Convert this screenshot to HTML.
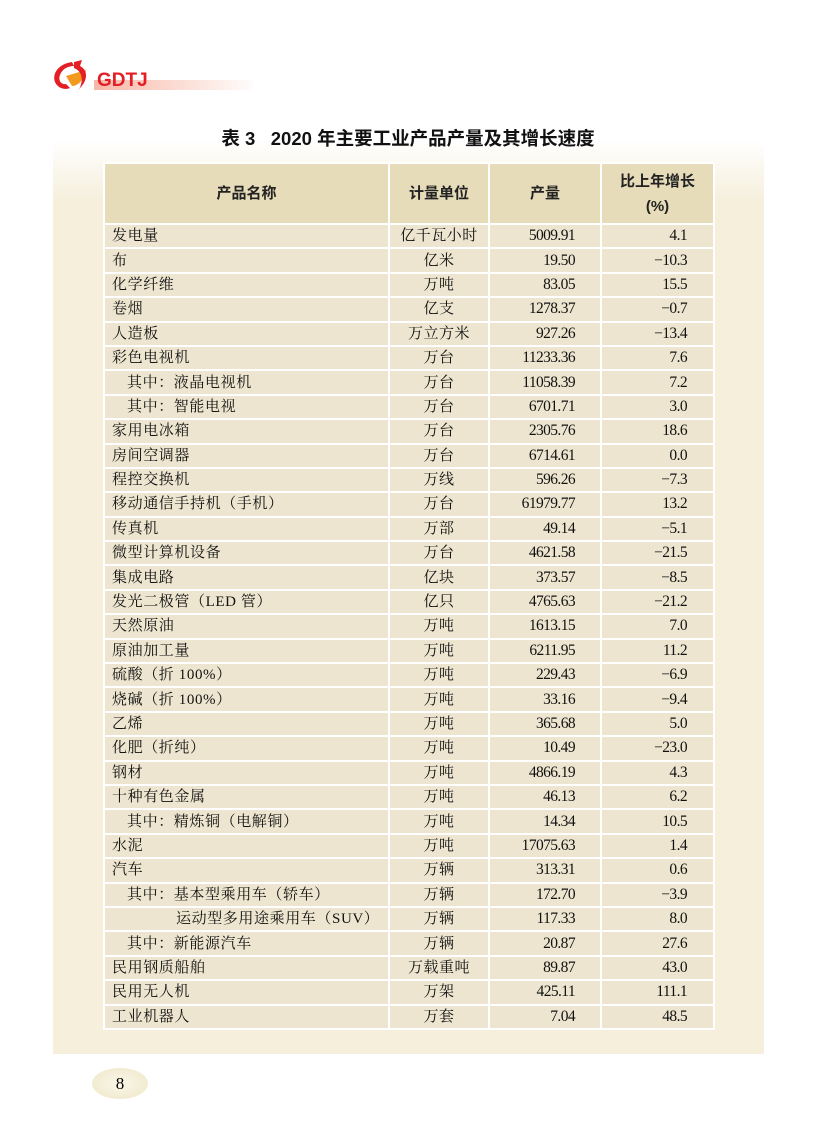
<!DOCTYPE html>
<html><head><meta charset="utf-8">
<style>
html,body{margin:0;padding:0;background:#fff;}
body{width:816px;height:1145px;position:relative;overflow:hidden;font-family:"Liberation Serif","Noto Serif CJK SC",serif;}
.panel{position:absolute;left:53px;top:140px;width:711px;height:914px;background:linear-gradient(#fff 0px,#f5efdc 60px,#f5efdc 100%);}
.title{position:absolute;left:0;width:816px;top:125px;text-align:center;font-family:"Liberation Sans","Noto Sans CJK SC",sans-serif;font-weight:bold;font-size:18.5px;color:#111;}
table{position:absolute;left:103px;top:162px;border-collapse:collapse;background:#fff;}
td{border:2px solid #fff;padding:0;height:22.4px;font-size:15px;color:#111;background:#ede5cf;line-height:20px;}
th{border:2px solid #fff;background:#e6dcba;height:57px;font-family:"Liberation Sans","Noto Sans CJK SC",sans-serif;font-size:15px;font-weight:bold;color:#222;line-height:25px;}
td.n{padding-left:7px;letter-spacing:0.6px;}
td.u{text-align:center;letter-spacing:0.5px;}
td.p{text-align:right;padding-right:25px;letter-spacing:-0.6px;font-size:15.5px;}
td.g{text-align:right;padding-right:26px;letter-spacing:-0.6px;font-size:15.5px;}
.i1{padding-left:22px!important}
.i2{padding-left:71px!important}
.pg{position:absolute;left:92px;top:1068px;width:56px;height:31px;border-radius:50%;background:radial-gradient(#fbf7e8,#ede6c8);text-align:center;line-height:31px;font-size:17px;}
</style></head><body>
<svg style="position:absolute;left:52px;top:58px" width="200" height="40">
<defs><linearGradient id="gb" x1="0" x2="1"><stop offset="0" stop-color="#f7b8a8"/><stop offset="1" stop-color="#fff"/></linearGradient></defs>
<rect x="42" y="22" width="165" height="10" fill="url(#gb)"/>
<path d="M20 4 C6 6 0 16 3 24 C6 31 14 32 18 30 L14 26 C9 27 6 22 8 17 C10 11 16 8 22 8 Z" fill="#e31e24"/>
<path d="M14 18 L34 12 C32 22 26 28 20 28 Z" fill="#f39a1e"/>
<path d="M22 4 L30 2 L28 8 C36 12 36 22 28 30 L24 36 C32 26 32 14 22 10 Z" fill="#e31e24"/>
<text x="45" y="28" font-family="Liberation Sans,sans-serif" font-weight="bold" font-size="19" fill="#e31e24">GDTJ</text>
</svg>
<div class="panel"></div>
<div class="title">表 3&nbsp;&nbsp;&nbsp;2020 年主要工业产品产量及其增长速度</div>
<table>
<tr><th style="width:281px">产品名称</th><th style="width:96px">计量单位</th><th style="width:108px">产量</th><th style="width:109px">比上年增长<br>(%)</th></tr>
<tr><td class="n">发电量</td><td class="u">亿千瓦小时</td><td class="p">5009.91</td><td class="g">4.1</td></tr>
<tr><td class="n">布</td><td class="u">亿米</td><td class="p">19.50</td><td class="g">−10.3</td></tr>
<tr><td class="n">化学纤维</td><td class="u">万吨</td><td class="p">83.05</td><td class="g">15.5</td></tr>
<tr><td class="n">卷烟</td><td class="u">亿支</td><td class="p">1278.37</td><td class="g">−0.7</td></tr>
<tr><td class="n">人造板</td><td class="u">万立方米</td><td class="p">927.26</td><td class="g">−13.4</td></tr>
<tr><td class="n">彩色电视机</td><td class="u">万台</td><td class="p">11233.36</td><td class="g">7.6</td></tr>
<tr><td class="n i1">其中：液晶电视机</td><td class="u">万台</td><td class="p">11058.39</td><td class="g">7.2</td></tr>
<tr><td class="n i1">其中：智能电视</td><td class="u">万台</td><td class="p">6701.71</td><td class="g">3.0</td></tr>
<tr><td class="n">家用电冰箱</td><td class="u">万台</td><td class="p">2305.76</td><td class="g">18.6</td></tr>
<tr><td class="n">房间空调器</td><td class="u">万台</td><td class="p">6714.61</td><td class="g">0.0</td></tr>
<tr><td class="n">程控交换机</td><td class="u">万线</td><td class="p">596.26</td><td class="g">−7.3</td></tr>
<tr><td class="n">移动通信手持机（手机）</td><td class="u">万台</td><td class="p">61979.77</td><td class="g">13.2</td></tr>
<tr><td class="n">传真机</td><td class="u">万部</td><td class="p">49.14</td><td class="g">−5.1</td></tr>
<tr><td class="n">微型计算机设备</td><td class="u">万台</td><td class="p">4621.58</td><td class="g">−21.5</td></tr>
<tr><td class="n">集成电路</td><td class="u">亿块</td><td class="p">373.57</td><td class="g">−8.5</td></tr>
<tr><td class="n">发光二极管（LED 管）</td><td class="u">亿只</td><td class="p">4765.63</td><td class="g">−21.2</td></tr>
<tr><td class="n">天然原油</td><td class="u">万吨</td><td class="p">1613.15</td><td class="g">7.0</td></tr>
<tr><td class="n">原油加工量</td><td class="u">万吨</td><td class="p">6211.95</td><td class="g">11.2</td></tr>
<tr><td class="n">硫酸（折 100%）</td><td class="u">万吨</td><td class="p">229.43</td><td class="g">−6.9</td></tr>
<tr><td class="n">烧碱（折 100%）</td><td class="u">万吨</td><td class="p">33.16</td><td class="g">−9.4</td></tr>
<tr><td class="n">乙烯</td><td class="u">万吨</td><td class="p">365.68</td><td class="g">5.0</td></tr>
<tr><td class="n">化肥（折纯）</td><td class="u">万吨</td><td class="p">10.49</td><td class="g">−23.0</td></tr>
<tr><td class="n">钢材</td><td class="u">万吨</td><td class="p">4866.19</td><td class="g">4.3</td></tr>
<tr><td class="n">十种有色金属</td><td class="u">万吨</td><td class="p">46.13</td><td class="g">6.2</td></tr>
<tr><td class="n i1">其中：精炼铜（电解铜）</td><td class="u">万吨</td><td class="p">14.34</td><td class="g">10.5</td></tr>
<tr><td class="n">水泥</td><td class="u">万吨</td><td class="p">17075.63</td><td class="g">1.4</td></tr>
<tr><td class="n">汽车</td><td class="u">万辆</td><td class="p">313.31</td><td class="g">0.6</td></tr>
<tr><td class="n i1">其中：基本型乘用车（轿车）</td><td class="u">万辆</td><td class="p">172.70</td><td class="g">−3.9</td></tr>
<tr><td class="n i2">运动型多用途乘用车（SUV）</td><td class="u">万辆</td><td class="p">117.33</td><td class="g">8.0</td></tr>
<tr><td class="n i1">其中：新能源汽车</td><td class="u">万辆</td><td class="p">20.87</td><td class="g">27.6</td></tr>
<tr><td class="n">民用钢质船舶</td><td class="u">万载重吨</td><td class="p">89.87</td><td class="g">43.0</td></tr>
<tr><td class="n">民用无人机</td><td class="u">万架</td><td class="p">425.11</td><td class="g">111.1</td></tr>
<tr><td class="n">工业机器人</td><td class="u">万套</td><td class="p">7.04</td><td class="g">48.5</td></tr>
</table>
<div class="pg">8</div>
</body></html>
